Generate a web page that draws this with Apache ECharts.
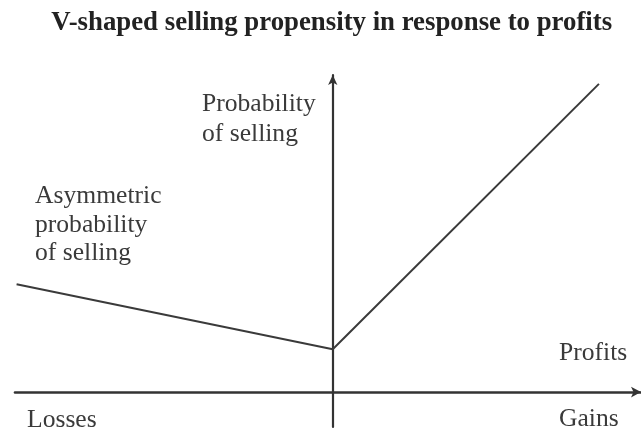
<!DOCTYPE html>
<html>
<head>
<meta charset="utf-8">
<script src="https://cdn.jsdelivr.net/npm/echarts@6/dist/echarts.min.js"></script>
<style>html,body{margin:0;padding:0;background:#fff}#c{width:641px;height:432px}</style>
</head>
<body>
<div id="c"></div>
<script>
// Data (arbitrary units: x = profit, y = probability of selling)
const lossX = [-10, 0];
const lossY = [3.4, 1.35];
const gainX = [0, 8.42];
const gainY = [1.35, 9.72];
const titleText = 'V-shaped selling propensity in response to profits';
const yLabel = ['Probability', 'of selling'];
const asymLabel = ['Asymmetric', 'probability', 'of selling'];
const xLabel = 'Profits';
const lossLabel = 'Losses';
const gainLabel = 'Gains';

const lossData = lossX.map((x, i) => [x, lossY[i]]);
const gainData = gainX.map((x, i) => [x, gainY[i]]);

const chart = echarts.init(document.getElementById('c'), null, {renderer: 'canvas'});
const serif = '"Liberation Serif", "DejaVu Serif", serif';
const ink = '#333';
const txt = (text, x, y, extra) => ({
  type: 'text', z: 100,
  style: Object.assign({text, x, y, font: '25.6px ' + serif, fill: '#3a3a3a', textAlign: 'left', textVerticalAlign: 'middle'}, extra || {})
});

chart.setOption({
  animation: false,
  grid: {left: 15, right: 0, top: 75, bottom: 5, containLabel: false},
  xAxis: {
    type: 'value', min: -10.05, max: 9.75,
    axisLine: {onZero: true, symbol: ['none', 'arrow'], symbolSize: [8, 10], lineStyle: {color: ink, width: 2.6}},
    axisTick: {show: false}, axisLabel: {show: false}, splitLine: {show: false}
  },
  yAxis: {
    type: 'value', min: -1.1, max: 10,
    axisLine: {show: true, onZero: true, symbol: ['none', 'arrow'], symbolSize: [7, 10], lineStyle: {color: ink, width: 2.2}},
    axisTick: {show: false}, axisLabel: {show: false}, splitLine: {show: false}
  },
  series: [
    {type: 'line', data: lossData, symbol: 'none', lineStyle: {color: '#3a3a3a', width: 2}},
    {type: 'line', data: gainData, symbol: 'none', lineStyle: {color: '#3a3a3a', width: 2}}
  ],
  graphic: [
    txt(titleText, 331.7, 23.5, {font: 'bold 26.8px ' + serif, fill: '#222', textAlign: 'center'}),
    txt(yLabel.join('\n'), 202, 119.6, {lineHeight: 30}),
    txt(asymLabel.join('\n'), 35, 225, {lineHeight: 28.5}),
    txt(xLabel, 559, 353.6),
    txt(lossLabel, 27, 420),
    txt(gainLabel, 559, 419)
  ]
});
</script>
</body>
</html>
